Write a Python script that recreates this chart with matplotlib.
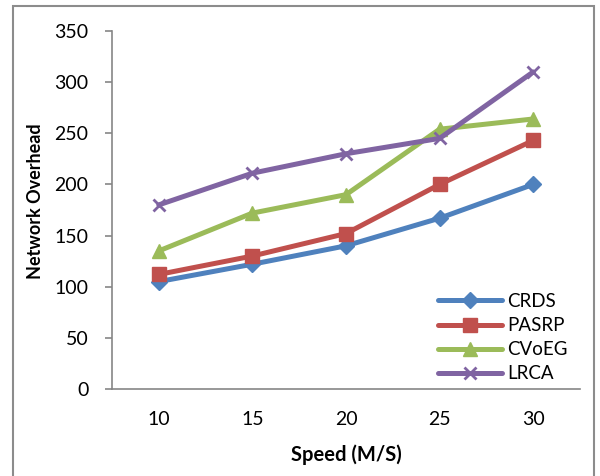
import matplotlib
matplotlib.use("Agg")
import matplotlib.pyplot as plt
from matplotlib.patches import Rectangle

speeds = ["10", "15", "20", "25", "30"]
crds = [105, 122, 140, 167, 200]
pasrp = [112, 130, 152, 200, 243]
cvoeg = [135, 172, 190, 254, 264]
lrca = [180, 211, 230, 245, 310]
yticks = [0, 50, 100, 150, 200, 250, 300, 350]

plt.rcParams['font.family'] = ['Lato', 'DejaVu Sans']

fig = plt.figure(figsize=(6.0, 4.76), dpi=100)
W, H = 600, 476
ax = fig.add_axes([112 / W, 1 - 389 / H, (580 - 112) / W, (389 - 31) / H])

# outer chart border
fig.patches.append(Rectangle((13 / W, -0.05), (594 - 13) / W, 1 - 6 / H + 0.05,
                             transform=fig.transFigure, fill=False,
                             edgecolor='#8c8c8c', linewidth=1.5))

x = list(range(len(speeds)))
series = [
    ("CRDS", crds, '#4F81BD', 'D', 8.5),
    ("PASRP", pasrp, '#C0504D', 's', 9.5),
    ("CVoEG", cvoeg, '#9BBB59', '^', 10.5),
    ("LRCA", lrca, '#8064A2', 'x', 9),
]
for name, vals, col, mk, ms in series:
    kw = dict(markeredgewidth=2) if mk == 'x' else dict(markeredgecolor=col)
    ax.plot(x, vals, color=col, linewidth=3.6, marker=mk, markersize=ms,
            markerfacecolor=col, solid_capstyle='round', label=name, **kw)

ax.set_xlim(-0.5, len(speeds) - 0.5)
ax.set_ylim(0, 350)
ax.set_xticks(x)
ax.set_xticklabels(speeds)
ax.set_yticks(yticks)

for s in ['top', 'right']:
    ax.spines[s].set_visible(False)
for s in ['left', 'bottom']:
    ax.spines[s].set_color('#868686')
    ax.spines[s].set_linewidth(1.2)

ax.tick_params(axis='y', direction='out', length=5, width=1.2, color='#868686',
               labelsize=14, pad=12)
ax.tick_params(axis='x', length=0, labelsize=14, pad=16)

ax.set_xlabel("Speed (M/S)", fontsize=14.5, fontweight='bold')
ax.xaxis.set_label_coords(0.5, (389 - 444) / 358)
ax.set_ylabel("Network Overhead", fontsize=13, fontweight='bold')
ax.yaxis.set_label_coords((44 - 112) / 468, (389 - 201) / 358)

leg = ax.legend(loc='upper left', bbox_to_anchor=(438 / W, 1 - 293 / H),
                bbox_transform=fig.transFigure, frameon=False,
                fontsize=13.5, handlelength=3.4, handletextpad=0.3,
                labelspacing=0.38, borderaxespad=0, borderpad=0)

fig.savefig("out.png", dpi=100)
